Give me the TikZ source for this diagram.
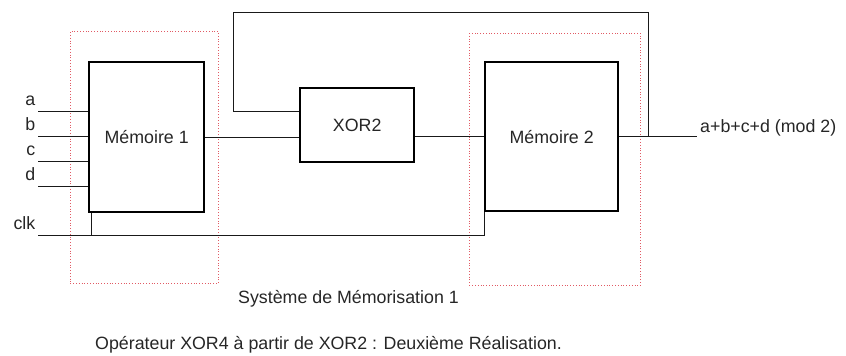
\documentclass[tikz,border=0pt]{standalone}
\usepackage{fontspec}
\setmainfont{Liberation Sans}
\begin{document}
\begin{tikzpicture}[x=1pt,y=-1pt,
  txt/.style={font=\fontsize{17.8}{20}\selectfont, text=black!85, inner sep=0pt},
  blk/.style={txt, draw=black, line width=2.4pt, anchor=north west},
  wire/.style={line width=1pt, draw=black!90},
  grp/.style={draw={rgb,255:red,225;green,90;blue,100}, dotted, line width=0.8pt, inner sep=0pt, anchor=north west}]
\useasboundingbox (0,0) rectangle (846,356);
% groups
\node[grp, minimum width=148pt, minimum height=252pt] (g1) at (70,31) {};
\node[grp, minimum width=171pt, minimum height=252pt] (g2) at (469,33) {};
% blocks
\node[blk, minimum width=115pt, minimum height=150pt] (m1) at (88,61) {Mémoire 1};
\node[blk, minimum width=114pt, minimum height=74pt] (xor) at (299,87) {XOR2};
\node[blk, minimum width=133pt, minimum height=149pt] (m2) at (484,61) {Mémoire 2};
% inputs
\coordinate (ia) at (38,111);
\coordinate (ib) at (38,136);
\coordinate (ic) at (38,161);
\coordinate (id) at (38,186);
\coordinate (ck) at (38,235);
\draw[wire] (ia) -- (ia -| m1.west);
\draw[wire] (ib) -- (ib -| m1.west);
\draw[wire] (ic) -- (ic -| m1.west);
\draw[wire] (id) -- (id -| m1.west);
\node[txt, anchor=base east] (la) at (35.5,105.5) {a};
\node[txt, anchor=base east] (lb) at (35.5,130.5) {b};
\node[txt, anchor=base east] (lc) at (35.5,155.5) {c};
\node[txt, anchor=base east] (ld) at (35.5,180.5) {d};
\node[txt, anchor=base east] (lck) at (35.5,229.5) {clk};
% clock
\draw[wire] (ck) -- (ck -| m2.south west) -- (m2.south west);
\coordinate (j1) at (91,235);
\draw[wire] (j1) -- (j1 |- m1.south);
% data path
\draw[wire] (m1.east) -- (m1.east -| xor.west);
\draw[wire] (xor.east |- m2.west) -- (m2.west);
\coordinate (out) at (697,136);
\draw[wire] (m2.east) -- (m2.east -| out);
\node[txt, anchor=base west] (lout) at (700,132) {a+b+c+d (mod 2)};
% feedback
\coordinate (fbt) at (648,12);
\coordinate (fbl) at (233,12);
\coordinate (fbx) at (233,111);
\draw[wire] (fbt |- m2.east) -- (fbt) -- (fbl) -- (fbx) -- (fbx -| xor.west);
% captions
\node[txt, anchor=base west] (cap1) at (238,303) {Système de Mémorisation 1};
\node[txt, anchor=base west] (cap2) at (95,349) {Opérateur XOR4 à partir de XOR2 : Deuxième Réalisation.};
\end{tikzpicture}
\end{document}
